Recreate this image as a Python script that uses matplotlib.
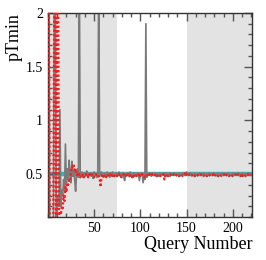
import matplotlib
matplotlib.use("Agg")
import matplotlib.pyplot as plt
from matplotlib.ticker import MultipleLocator, FixedLocator, FixedFormatter

plt.rcParams['font.family'] = ['Liberation Serif', 'DejaVu Serif']

query = list(range(1, 221))

gray_vals = [
    2.5, 0.05, 0.05, 0.05, 0.05, 0.05, 2.5, 2.5, 0.1, 0.15,
    0.3, 0.2, 1.1, 0.2, 0.35, 0.3, 0.45, 0.35, 0.78, 0.4,
    0.55, 0.45, 0.63, 0.5, 0.42, 0.62, 0.48, 0.53, 0.45, 0.34,
    0.5, 0.55, 0.47, 2.5, 0.49,
    0.49, 0.52, 0.47, 0.51, 0.48, 0.50, 0.53, 0.47, 0.50, 0.49,
    0.51, 0.48, 0.50, 0.46, 0.52, 0.49, 0.50, 0.47, 0.51, 2.5,
    0.48, 0.50, 0.52, 0.49, 0.47, 0.51, 0.50, 0.48, 0.52, 0.49,
    0.50, 0.47, 0.51, 0.49, 0.52, 0.48, 0.50, 0.49, 0.51, 0.48,
    0.50, 0.52, 0.49, 0.47, 0.50, 0.51, 0.48, 0.44, 0.50, 0.49,
    0.51, 0.50, 0.48, 0.52, 0.49, 0.50, 0.47, 0.51, 0.49, 0.50,
    0.48, 0.51, 0.50, 0.44, 0.49, 0.51, 0.50, 0.42, 0.49, 0.45,
    1.9, 0.47, 0.50, 0.49, 0.51, 0.50, 0.48, 0.51, 0.50, 0.49,
    0.50, 0.51, 0.49, 0.50, 0.48, 0.51, 0.50, 0.49, 0.50, 0.51,
    0.49, 0.50, 0.51, 0.49, 0.50, 0.50, 0.48, 0.51, 0.50, 0.49,
    0.50, 0.51, 0.49, 0.50, 0.50, 0.49, 0.51, 0.50, 0.49, 0.50,
    0.51, 0.50, 0.49, 0.50, 0.52, 0.50, 0.49, 0.50, 0.51, 0.50,
    0.49, 0.50, 0.50, 0.51, 0.49, 0.50, 0.50, 0.49, 0.51, 0.50,
    0.50, 0.49, 0.50, 0.51, 0.50, 0.49, 0.50, 0.50, 0.51, 0.49,
    0.50, 0.50, 0.49, 0.51, 0.50, 0.50, 0.49, 0.50, 0.51, 0.50,
    0.49, 0.50, 0.50, 0.51, 0.49, 0.50, 0.50, 0.49, 0.50, 0.51,
    0.50, 0.49, 0.50, 0.50, 0.51, 0.49, 0.50, 0.50, 0.49, 0.50,
    0.51, 0.50, 0.49, 0.50, 0.50, 0.51, 0.49, 0.50, 0.50, 0.49,
    0.50, 0.51, 0.50, 0.49, 0.50,
]

red_vals = [
    2.5, 0.05, 0.05, 0.05, 0.05, 0.05, 2.5, 2.5, 0.05, 2.5,
    2.5, 0.13, 0.15, 0.12, 0.2, 0.18, 0.3, 0.25, 0.38, 0.33,
    0.42, 0.4, 0.45, 0.44, 0.53, 0.57, 0.55, 0.58, 0.52, 0.55,
    0.49, 0.5, 0.48, 0.5, 0.47,
    0.49, 0.48, 0.50, 0.47, 0.49, 0.50, 0.48, 0.49, 0.47, 0.50,
    0.49, 0.48, 0.50, 0.49, 0.47, 0.49, 0.50, 0.48, 0.49, 0.48,
    0.46, 0.38, 0.47, 0.49, 0.50, 0.48, 0.49, 0.47, 0.50, 0.49,
    0.48, 0.50, 0.49, 0.47, 0.49, 0.50, 0.48, 0.49, 0.50, 0.48,
    0.49, 0.50, 0.48, 0.49, 0.47, 0.49, 0.50, 0.48, 0.49, 0.47,
    0.49, 0.50, 0.48, 0.49, 0.50, 0.47, 0.49, 0.48, 0.50, 0.49,
    0.48, 0.49, 0.50, 0.47, 0.49, 0.48, 0.50, 0.49, 0.47, 0.48,
    0.49, 0.50, 0.48, 0.49, 0.50, 0.48, 0.49, 0.50, 0.49, 0.48,
    0.49, 0.50, 0.48, 0.49, 0.50, 0.49, 0.48, 0.49, 0.49, 0.50,
    0.45, 0.48, 0.50, 0.49, 0.48, 0.49, 0.50, 0.49, 0.48, 0.49,
    0.50, 0.49, 0.48, 0.49, 0.50, 0.49, 0.48, 0.49, 0.50, 0.49,
    0.48, 0.49, 0.50, 0.52, 0.49, 0.48, 0.49, 0.50, 0.49, 0.48,
    0.49, 0.50, 0.49, 0.48, 0.49, 0.50, 0.49, 0.48, 0.49, 0.49,
    0.50, 0.49, 0.48, 0.49, 0.50, 0.49, 0.48, 0.49, 0.50, 0.49,
    0.48, 0.49, 0.49, 0.50, 0.48, 0.49, 0.50, 0.49, 0.48, 0.49,
    0.50, 0.49, 0.48, 0.49, 0.49, 0.50, 0.48, 0.49, 0.50, 0.49,
    0.48, 0.49, 0.50, 0.49, 0.48, 0.49, 0.49, 0.50, 0.48, 0.49,
    0.50, 0.49, 0.48, 0.49, 0.47, 0.49, 0.50, 0.49, 0.48, 0.49,
    0.50, 0.49, 0.48, 0.49, 0.49,
]

target = 0.5
shaded_ranges = [(0, 75), (150, 221)]

x_ticks = [50, 100, 150, 200]
x_labels = ["50", "100", "150", "200"]
y_ticks = [0.5, 1.0, 1.5, 2.0]
y_labels = ["0.5", "1", "1.5", "2"]

fig = plt.figure(figsize=(2.66, 2.60), dpi=100)
ax = fig.add_axes([0.18, 0.165, 0.768, 0.785])

for a, b in shaded_ranges:
    ax.axvspan(a, b, color='#e3e3e3', lw=0, zorder=0)

ax.axhline(target, color='#1fbdbd', lw=3.2, zorder=1)
ax.plot(query, gray_vals, color='#7a7a7a', lw=1.2, zorder=2)
ax.plot(query, red_vals, color='#ff1a1a', lw=1.6, ls=(0, (1, 1)), zorder=3)

ax.set_xlim(0, 221)
ax.set_ylim(0.1, 2.0)

ax.xaxis.set_major_locator(FixedLocator(x_ticks))
ax.xaxis.set_major_formatter(FixedFormatter(x_labels))
ax.yaxis.set_major_locator(FixedLocator(y_ticks))
ax.yaxis.set_major_formatter(FixedFormatter(y_labels))
ax.xaxis.set_minor_locator(MultipleLocator(10))
ax.yaxis.set_minor_locator(MultipleLocator(0.1))

ax.tick_params(which='both', direction='in', top=True, right=True,
               labelsize=10, color='#555555')
ax.tick_params(which='major', length=6, width=1)
ax.tick_params(which='minor', length=3, width=1)
for s in ax.spines.values():
    s.set_color('#333333')
    s.set_linewidth(1.0)

ax.set_xlabel('Query Number', fontsize=13, loc='right', labelpad=1)
ax.set_ylabel('pTmin', fontsize=13, loc='top', labelpad=2)

fig.savefig('out.png', dpi=100)
